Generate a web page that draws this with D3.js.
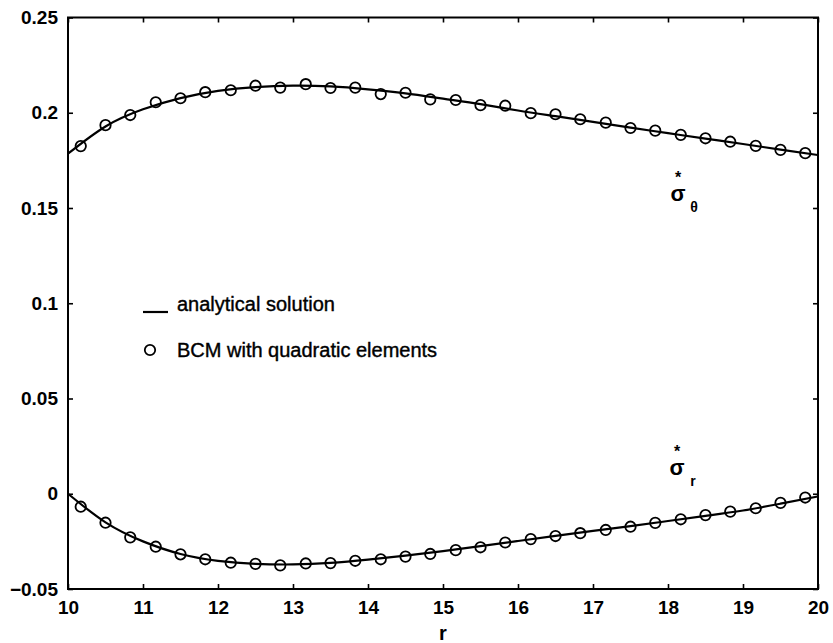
<!DOCTYPE html>
<html>
<head>
<meta charset="utf-8">
<script src="https://cdn.jsdelivr.net/npm/d3@7"></script>
<style>
  body { margin: 0; background: #fff; }
  text { font-family: "Liberation Sans", Arial, sans-serif; fill: #000; }
</style>
</head>
<body>
<svg id="chart" width="833" height="643"></svg>
<script>
// r positions of the BCM points (element midpoints)
var bcmR = [10.17, 10.5, 10.83, 11.17, 11.5, 11.83, 12.17, 12.5, 12.83, 13.17,
  13.5, 13.83, 14.17, 14.5, 14.83, 15.17, 15.5, 15.83, 16.17, 16.5,
  16.83, 17.17, 17.5, 17.83, 18.17, 18.5, 18.83, 19.17, 19.5, 19.83];
var bcmTheta = [0.1825, 0.1935, 0.1988, 0.2055, 0.2076, 0.2108, 0.2118, 0.2142, 0.2132, 0.2150,
  0.2130, 0.2132, 0.2098, 0.2105, 0.2070, 0.2067, 0.2040, 0.2037, 0.1998, 0.1992,
  0.1966, 0.1948, 0.1920, 0.1906, 0.1884, 0.1866, 0.1848, 0.1826, 0.1805, 0.1788];
var bcmRad = [-0.0068, -0.0152, -0.0229, -0.0278, -0.0318, -0.0344, -0.0362, -0.0368, -0.0376, -0.0366,
  -0.0364, -0.0352, -0.0344, -0.0330, -0.0316, -0.0296, -0.0281, -0.0256, -0.0238, -0.0222,
  -0.0207, -0.0190, -0.0173, -0.0153, -0.0134, -0.0112, -0.0094, -0.0076, -0.0048, -0.0020];

// analytical solution
var exactR = [10, 10.5, 11, 11.5, 12, 12.5, 13, 13.5, 14, 14.5, 15, 15.5, 16, 16.5, 17, 17.5, 18, 18.5, 19, 19.5, 20];
var exactTheta = [0.1785, 0.1928, 0.2018, 0.2077, 0.2115, 0.2135, 0.2142, 0.2138, 0.2123, 0.2102,
  0.2074, 0.2045, 0.2012, 0.1982, 0.1952, 0.1922, 0.1893, 0.1864, 0.1836, 0.1806, 0.1778];
var exactRad = [0, -0.0150, -0.0250, -0.0316, -0.0352, -0.0368, -0.0371, -0.0363, -0.0346, -0.0325,
  -0.0301, -0.0275, -0.0248, -0.0221, -0.0195, -0.0170, -0.0143, -0.0116, -0.0088, -0.0052, -0.0014];

var xTicks = [10, 11, 12, 13, 14, 15, 16, 17, 18, 19, 20];
var yTicks = [-0.05, 0, 0.05, 0.1, 0.15, 0.2, 0.25];
var yTickLabels = ["\u22120.05", "0", "0.05", "0.1", "0.15", "0.2", "0.25"];

var mLeft = 68, mRight = 818, mTop = 17.5, mBottom = 589;
var svg = d3.select("#chart");
var x = d3.scaleLinear().domain([10, 20]).range([mLeft, mRight]);
var y = d3.scaleLinear().domain([-0.05, 0.25]).range([mBottom, mTop]);

// inward ticks on all four sides
var tl = 5;
function axisStyle(g) {
  g.select(".domain").remove();
  g.selectAll(".tick line").attr("stroke", "#000").attr("stroke-width", 1.6);
}
svg.append("g").attr("transform", "translate(0," + mBottom + ")")
  .call(d3.axisBottom(x).tickValues(xTicks).tickSize(-tl).tickPadding(12).tickFormat(d3.format("d")))
  .call(axisStyle)
  .selectAll("text").attr("font-size", 19).attr("font-weight", "bold").attr("dy", "0.71em");
svg.append("g").attr("transform", "translate(0," + mTop + ")")
  .call(d3.axisTop(x).tickValues(xTicks).tickSize(-tl).tickFormat(""))
  .call(axisStyle);
svg.append("g").attr("transform", "translate(" + mLeft + ",0)")
  .call(d3.axisLeft(y).tickValues(yTicks).tickSize(-tl).tickPadding(10)
    .tickFormat(function(d, i) { return yTickLabels[i]; }))
  .call(axisStyle)
  .selectAll("text").attr("font-size", 19).attr("font-weight", "bold");
svg.append("g").attr("transform", "translate(" + mRight + ",0)")
  .call(d3.axisRight(y).tickValues(yTicks).tickSize(-tl).tickFormat(""))
  .call(axisStyle);

svg.append("rect")
  .attr("x", mLeft).attr("y", mTop)
  .attr("width", mRight - mLeft).attr("height", mBottom - mTop)
  .attr("fill", "none").attr("stroke", "#000").attr("stroke-width", 2);

var line = d3.line()
  .x(function(d) { return x(d[0]); })
  .y(function(d) { return y(d[1]); })
  .curve(d3.curveNatural);

[exactTheta, exactRad].forEach(function(vals) {
  svg.append("path")
    .attr("d", line(exactR.map(function(r, i) { return [r, vals[i]]; })))
    .attr("fill", "none").attr("stroke", "#000").attr("stroke-width", 2.2);
});

[bcmTheta, bcmRad].forEach(function(vals) {
  svg.append("g").selectAll("circle")
    .data(bcmR.map(function(r, i) { return [r, vals[i]]; }))
    .join("circle")
    .attr("cx", function(d) { return x(d[0]); })
    .attr("cy", function(d) { return y(d[1]); })
    .attr("r", 5.2)
    .attr("fill", "none").attr("stroke", "#000").attr("stroke-width", 1.8);
});

// legend
var lg = svg.append("g");
lg.append("line").attr("x1", 143).attr("x2", 168).attr("y1", 312).attr("y2", 312)
  .attr("stroke", "#000").attr("stroke-width", 2.2);
lg.append("text").attr("x", 177).attr("y", 311).attr("font-size", 20)
  .attr("stroke", "#000").attr("stroke-width", 0.4).text("analytical solution");
lg.append("circle").attr("cx", 150).attr("cy", 350).attr("r", 5.2)
  .attr("fill", "none").attr("stroke", "#000").attr("stroke-width", 1.8);
lg.append("text").attr("x", 177).attr("y", 357).attr("font-size", 20)
  .attr("stroke", "#000").attr("stroke-width", 0.4).text("BCM with quadratic elements");

// curve labels
function sigmaLabel(cx, cy, sub) {
  var g = svg.append("g");
  g.append("text").attr("x", cx).attr("y", cy - 12).attr("text-anchor", "middle")
    .attr("font-size", 16).attr("font-weight", "bold").text("*");
  g.append("text").attr("x", cx).attr("y", cy + 6).attr("text-anchor", "middle")
    .attr("font-size", 22).attr("font-weight", "bold").text("σ");
  g.append("text").attr("x", cx + 16).attr("y", cy + 17).attr("text-anchor", "middle")
    .attr("font-size", 14).attr("font-weight", "bold").text(sub);
}
sigmaLabel(678, 195, "θ");
sigmaLabel(677, 469, "r");

svg.append("text").attr("x", (mLeft + mRight) / 2).attr("y", 640)
  .attr("text-anchor", "middle").attr("font-size", 20).attr("font-weight", "bold").text("r");
</script>
</body>
</html>
